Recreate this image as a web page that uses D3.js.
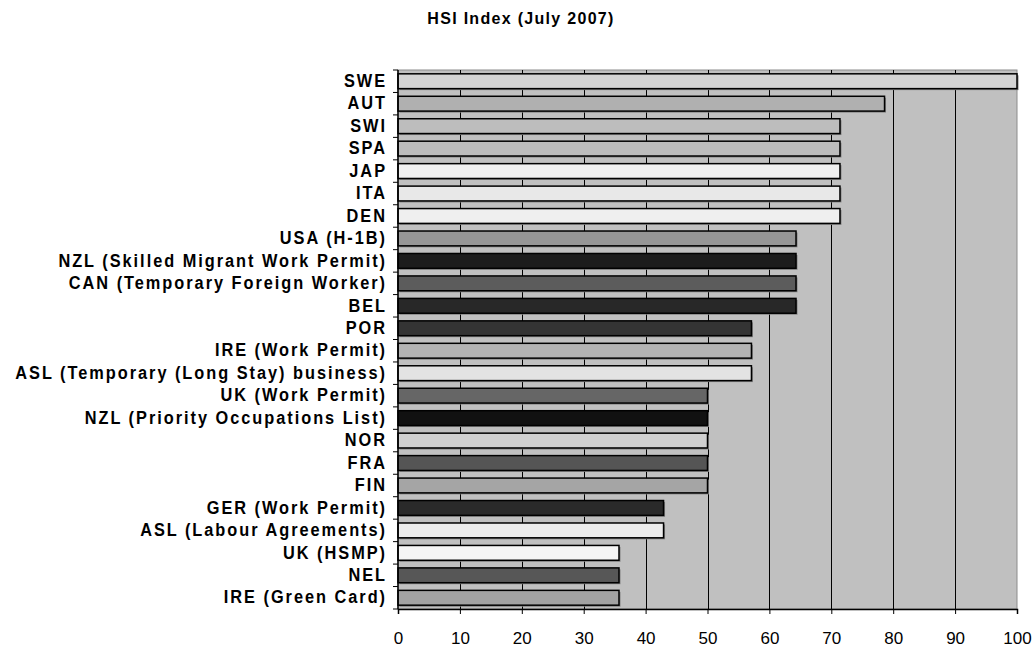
<!DOCTYPE html>
<html>
<head>
<meta charset="utf-8">
<script src="https://cdn.jsdelivr.net/npm/d3@7"></script>
<style>
  body { margin: 0; background: #fff; }
  svg { display: block; font-family: "Liberation Sans", Arial, sans-serif; }
</style>
</head>
<body>
<div id="chart"></div>
<script>
// data (top to bottom)
var countries = ["SWE", "AUT", "SWI", "SPA", "JAP", "ITA", "DEN", "USA (H-1B)",
  "NZL (Skilled Migrant Work Permit)", "CAN (Temporary Foreign Worker)", "BEL", "POR",
  "IRE (Work Permit)", "ASL (Temporary (Long Stay) business)", "UK (Work Permit)",
  "NZL (Priority Occupations List)", "NOR", "FRA", "FIN", "GER (Work Permit)",
  "ASL (Labour Agreements)", "UK (HSMP)", "NEL", "IRE (Green Card)"];
var hsi = [100, 78.6, 71.4, 71.4, 71.4, 71.4, 71.4, 64.3,
  64.3, 64.3, 64.3, 57.1,
  57.1, 57.1, 50,
  50, 50, 50, 50, 42.9,
  42.9, 35.7, 35.7, 35.7];
var barFills = ["#d4d4d4", "#b0b0b0", "#bdbdbd", "#bcbcbc", "#f0f0f0", "#e8e8e8", "#efefef", "#969696",
  "#1c1c1c", "#5c5c5c", "#282828", "#343434",
  "#b3b3b3", "#e3e3e3", "#666666",
  "#111111", "#d0d0d0", "#555555", "#a5a5a5", "#2a2a2a",
  "#ececec", "#f5f5f5", "#575757", "#a3a3a3"];
var xTicks = [0, 10, 20, 30, 40, 50, 60, 70, 80, 90, 100];

var svgWidth = 1034;
var svgHeight = 650;
var margin = {top: 70, right: 17, bottom: 41, left: 398};
var width = svgWidth - margin.left - margin.right;
var height = svgHeight - margin.top - margin.bottom;

var svg = d3.select("#chart")
  .append("svg")
  .attr("width", svgWidth)
  .attr("height", svgHeight);

// title
svg.append("text")
  .attr("x", 521)
  .attr("y", 24)
  .attr("text-anchor", "middle")
  .attr("font-size", "16px")
  .attr("font-weight", "bold")
  .attr("letter-spacing", "1.3px")
  .text("HSI Index (July 2007)");

var chartGroup = svg.append("g")
  .attr("transform", `translate(${margin.left}, ${margin.top})`);

var xScale = d3.scaleLinear().domain([0, 100]).range([0, width]);
var yScale = d3.scaleBand().domain(countries).range([0, height]).paddingInner(0.34).paddingOuter(0.17);

// plot background
chartGroup.append("rect")
  .attr("width", width)
  .attr("height", height)
  .attr("fill", "#c0c0c0")
  .attr("stroke", "#8c8c8c")
  .attr("stroke-width", 1);

// vertical gridlines
chartGroup.selectAll(".grid")
  .data(xTicks.slice(1, -1)).enter()
  .append("line")
  .attr("x1", d => Math.round(xScale(d)) + 0.5)
  .attr("x2", d => Math.round(xScale(d)) + 0.5)
  .attr("y1", 0)
  .attr("y2", height)
  .attr("stroke", "#000")
  .attr("stroke-width", 1);

// shadows under bars
chartGroup.selectAll(".shadow")
  .data(countries).enter()
  .append("rect")
  .attr("x", 1.5)
  .attr("y", d => yScale(d) + 1.5)
  .attr("width", (d, i) => xScale(hsi[i]))
  .attr("height", yScale.bandwidth())
  .attr("fill", "#808080");

// bars
chartGroup.selectAll(".bar")
  .data(countries).enter()
  .append("rect")
  .attr("x", 0)
  .attr("y", d => yScale(d))
  .attr("width", (d, i) => xScale(hsi[i]))
  .attr("height", yScale.bandwidth())
  .attr("fill", (d, i) => barFills[i])
  .attr("stroke", "#000")
  .attr("stroke-width", 1.5);

// left axis: ticks between categories
var bandStep = height / countries.length;
chartGroup.selectAll(".ytick")
  .data(d3.range(countries.length + 1)).enter()
  .append("line")
  .attr("x1", -5)
  .attr("x2", 0)
  .attr("y1", d => d * bandStep)
  .attr("y2", d => d * bandStep)
  .attr("stroke", "#000");

chartGroup.append("line")
  .attr("x1", 0).attr("x2", 0)
  .attr("y1", 0).attr("y2", height)
  .attr("stroke", "#000").attr("stroke-width", 1.5);

// category labels (condensed, tall)
chartGroup.selectAll(".ylabel")
  .data(countries).enter()
  .append("g")
  .attr("transform", d => `translate(-11, ${yScale(d) + yScale.bandwidth() / 2}) scale(0.86, 1)`)
  .append("text")
  .attr("dy", "0.3em")
  .attr("text-anchor", "end")
  .attr("font-size", "19px")
  .attr("font-weight", "bold")
  .attr("letter-spacing", "2.3px")
  .text(d => d);

// bottom axis
var bottomAxis = d3.axisBottom(xScale).tickValues(xTicks).tickSize(5).tickPadding(18);
var xAxis = chartGroup.append("g")
  .attr("transform", `translate(0, ${height})`)
  .call(bottomAxis);
xAxis.select(".domain").attr("stroke-width", 1.5);
xAxis.selectAll("text")
  .attr("font-size", "17px")
  .attr("font-family", "Liberation Sans, Arial, sans-serif")
  .attr("fill", "#000");
</script>
</body>
</html>
